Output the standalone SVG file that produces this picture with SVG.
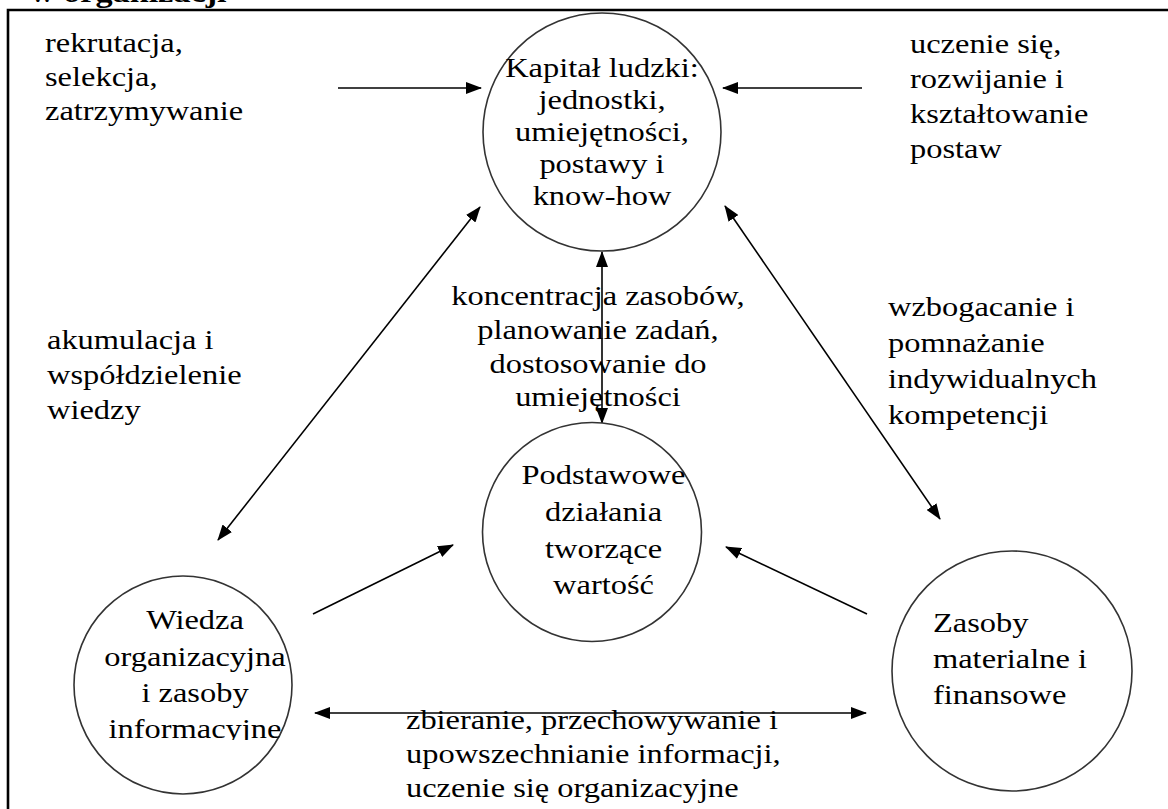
<svg xmlns="http://www.w3.org/2000/svg" width="1168" height="809" viewBox="0 0 1168 809">
  <style>
    text { font-family: "Liberation Serif", "Times New Roman", serif; font-size: 27.5px; fill: #000; }
    .title { font-weight: bold; font-size: 29px; }
    .node { fill: #fff; stroke: #333; stroke-width: 1.6; }
    .edge { stroke: #000; stroke-width: 1.6; fill: none; }
    .frame { stroke: #000; stroke-width: 2.6; fill: none; }
  </style>
  <defs>
    <marker id="head" viewBox="0 0 16 12" refX="15" refY="6" markerWidth="16" markerHeight="12" markerUnits="userSpaceOnUse" orient="auto">
      <path d="M0,0 L16,6 L0,12 Z" fill="#000"/>
    </marker>
    <marker id="tail" viewBox="0 0 16 12" refX="1" refY="6" markerWidth="16" markerHeight="12" markerUnits="userSpaceOnUse" orient="auto">
      <path d="M16,0 L0,6 L16,12 Z" fill="#000"/>
    </marker>
    <clipPath id="cutWiedza">
      <rect x="0" y="560" width="400" height="180"/>
    </clipPath>
  </defs>

  <rect width="1168" height="809" fill="#fff"/>

  <!-- heading, partly above the page edge -->
  <g transform="translate(30 0) scale(1.18 1)">
    <text class="title" x="0" y="2">w organizacji</text>
  </g>

  <!-- page frame -->
  <path class="frame" d="M8,809 L8,10 L1168,10"/>

  <!-- connectors -->
  <g id="connectors">
    <line class="edge" x1="338" y1="88" x2="481" y2="88" marker-end="url(#head)"/>
    <line class="edge" x1="862" y1="88" x2="723" y2="88" marker-end="url(#head)"/>
    <line class="edge" x1="602" y1="252" x2="602" y2="423" marker-start="url(#tail)" marker-end="url(#head)"/>
    <line class="edge" x1="480" y1="207" x2="218" y2="540" marker-start="url(#tail)" marker-end="url(#head)"/>
    <line class="edge" x1="725" y1="206" x2="940" y2="519" marker-start="url(#tail)" marker-end="url(#head)"/>
    <line class="edge" x1="313" y1="614" x2="453" y2="545" marker-end="url(#head)"/>
    <line class="edge" x1="867" y1="614" x2="726" y2="547" marker-end="url(#head)"/>
    <line class="edge" x1="315" y1="713" x2="866" y2="713" marker-start="url(#tail)" marker-end="url(#head)"/>
  </g>

  <!-- nodes -->
  <g id="kapital">
    <circle class="node" cx="602" cy="132" r="119"/>
    <g transform="translate(602 0) scale(1.18 1)" text-anchor="middle">
      <text x="0" y="77">Kapitał ludzki:</text>
      <text x="0" y="109">jednostki,</text>
      <text x="0" y="141">umiejętności,</text>
      <text x="0" y="173">postawy i</text>
      <text x="0" y="205">know-how</text>
    </g>
  </g>

  <g id="dzialania">
    <circle class="node" cx="592" cy="532" r="109.5"/>
    <g transform="translate(603.5 0) scale(1.18 1)" text-anchor="middle">
      <text x="0" y="484">Podstawowe</text>
      <text x="0" y="521">działania</text>
      <text x="0" y="558">tworzące</text>
      <text x="0" y="594">wartość</text>
    </g>
  </g>

  <g id="wiedza">
    <circle class="node" cx="183" cy="685" r="109"/>
    <g clip-path="url(#cutWiedza)">
      <g transform="translate(195 0) scale(1.18 1)" text-anchor="middle">
        <text x="0" y="629">Wiedza</text>
        <text x="0" y="666">organizacyjna</text>
        <text x="0" y="702">i zasoby</text>
        <text x="0" y="738">informacyjne</text>
      </g>
    </g>
  </g>

  <g id="zasoby">
    <circle class="node" cx="1012" cy="671" r="120"/>
    <g transform="translate(933 0) scale(1.18 1)">
      <text x="0" y="632">Zasoby</text>
      <text x="0" y="668">materialne i</text>
      <text x="0" y="704">finansowe</text>
    </g>
  </g>

  <!-- connector labels -->
  <g id="label-rekrutacja" transform="translate(45 0) scale(1.18 1)">
    <text x="0" y="52">rekrutacja,</text>
    <text x="0" y="86">selekcja,</text>
    <text x="0" y="120">zatrzymywanie</text>
  </g>

  <g id="label-uczenie" transform="translate(910 0) scale(1.18 1)">
    <text x="0" y="53">uczenie się,</text>
    <text x="0" y="88">rozwijanie i</text>
    <text x="0" y="123">kształtowanie</text>
    <text x="0" y="158">postaw</text>
  </g>

  <g id="label-akumulacja" transform="translate(47 0) scale(1.18 1)">
    <text x="0" y="349">akumulacja i</text>
    <text x="0" y="384">współdzielenie</text>
    <text x="0" y="419">wiedzy</text>
  </g>

  <g id="label-koncentracja" transform="translate(598 0) scale(1.18 1)" text-anchor="middle">
    <text x="0" y="305">koncentracja zasobów,</text>
    <text x="0" y="339">planowanie zadań,</text>
    <text x="0" y="373">dostosowanie do</text>
    <text x="0" y="406">umiejętności</text>
  </g>

  <g id="label-wzbogacanie" transform="translate(888 0) scale(1.18 1)">
    <text x="0" y="316">wzbogacanie i</text>
    <text x="0" y="352">pomnażanie</text>
    <text x="0" y="388">indywidualnych</text>
    <text x="0" y="424">kompetencji</text>
  </g>

  <g id="label-zbieranie" transform="translate(406 0) scale(1.18 1)">
    <text x="0" y="729">zbieranie, przechowywanie i</text>
    <text x="0" y="763">upowszechnianie informacji,</text>
    <text x="0" y="797">uczenie się organizacyjne</text>
  </g>
</svg>
